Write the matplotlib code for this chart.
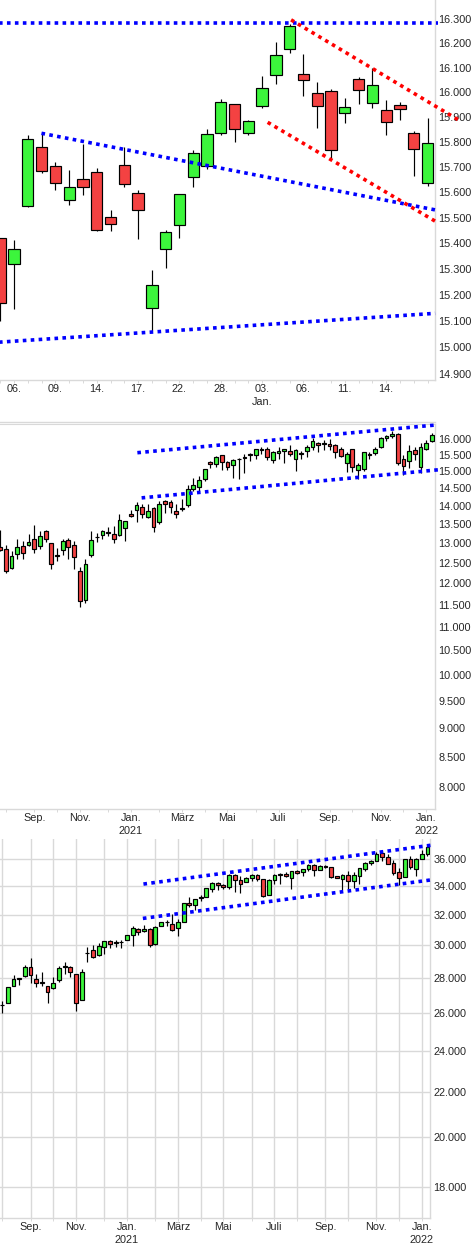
import matplotlib
matplotlib.use("Agg")
import matplotlib.pyplot as plt
from matplotlib.lines import Line2D
from matplotlib.ticker import FixedLocator, FixedFormatter, NullLocator

plt.rcParams['font.family'] = ['Liberation Sans', 'DejaVu Sans']

W, H = 475, 1250
GREEN, RED = '#3cf53c', '#f44242'
AXIS = '#d9d9d9'
TXT = '#262626'

# ---------- daily panel
d_open = [15.421,15.319,15.545,15.779,15.703,15.570,15.652,15.679,15.503,15.707,15.597,15.149,15.378,15.471,15.661,15.703,
          15.835,15.952,15.835,15.944,16.071,16.177,16.075,15.997,16.005,15.915,16.054,15.956,15.927,15.948,15.835,15.636]
d_close = [15.168,15.378,15.811,15.683,15.636,15.621,15.621,15.452,15.475,15.632,15.530,15.238,15.444,15.593,15.755,15.831,
           15.960,15.851,15.883,16.018,16.152,16.270,16.050,15.944,15.767,15.940,16.010,16.030,15.879,15.931,15.771,15.795]
d_high = [15.421,15.414,15.828,15.841,15.719,15.688,15.792,15.695,15.532,15.779,15.609,15.295,15.453,15.593,15.768,15.851,
          15.973,15.952,15.887,16.068,16.203,16.280,16.157,16.043,16.014,15.978,16.062,16.099,15.970,15.962,15.844,15.896]
d_low = [15.099,15.148,15.541,15.678,15.610,15.549,15.588,15.447,15.447,15.620,15.416,15.061,15.304,15.423,15.620,15.693,
         15.829,15.801,15.829,15.938,16.033,16.159,15.986,15.857,15.735,15.877,15.951,15.938,15.829,15.889,15.666,15.627]
d_ticks = [1, 4, 7, 10, 13, 16, 19, 22, 25, 28]
d_labels = ['06.', '09.', '14.', '17.', '22.', '28.', '03.\nJan.', '06.', '11.', '14.']
d_yticks = [16.3,16.2,16.1,16.0,15.9,15.8,15.7,15.6,15.5,15.4,15.3,15.2,15.1,15.0,14.9]
d_lines = [((-0.1, 31.76), (16.284, 16.284), 'blue'),
           ((2.99, 31.76), (15.835, 15.529), 'blue'),
           ((-0.1, 31.55), (15.02, 15.13), 'blue'),
           ((21.1, 33.2), (16.296, 15.89), 'red'),
           ((19.4, 31.55), (15.879, 15.487), 'red')]

# ---------- weekly panel (index)
w_open = [12.91,12.86,12.38,12.72,12.94,12.95,13.12,12.94,13.33,13.01,12.69,12.83,13.08,12.96,12.31,11.62,12.70,13.17,13.21,13.30,13.25,13.21,13.41,13.78,13.89,13.98,13.70,13.95,13.57,14.14,14.12,13.87,13.94,14.02,14.47,14.53,14.77,15.27,15.21,15.49,15.27,15.18,15.39,15.43,15.52,15.49,15.67,15.70,15.36,15.55,15.62,15.63,15.39,15.55,15.61,15.74,15.86,15.83,15.83,15.80,15.67,15.24,15.67,15.03,15.08,15.52,15.55,15.74,16.02,16.09,16.15,15.39,15.30,15.64,15.12,15.67,15.93]
w_close = [12.83,12.30,12.68,12.91,12.75,13.04,12.86,13.20,13.11,12.48,12.68,13.06,12.91,12.65,11.58,12.48,13.09,13.16,13.33,13.28,13.12,13.62,13.59,13.73,14.03,13.78,13.87,13.43,14.07,14.07,13.98,13.78,13.92,14.48,14.60,14.74,15.08,15.21,15.43,15.27,15.12,15.36,15.38,15.42,15.50,15.67,15.65,15.43,15.58,15.63,15.67,15.52,15.64,15.53,15.74,15.95,15.80,15.88,15.77,15.58,15.47,15.52,15.12,15.18,15.58,15.50,15.67,16.02,16.09,16.15,15.24,15.15,15.61,15.52,15.74,15.86,16.12]
w_high = [13.34,12.95,12.81,13.10,13.07,13.23,13.47,13.31,13.36,13.01,12.89,13.10,13.15,13.05,12.41,12.61,13.31,13.28,13.35,13.44,13.45,13.79,13.59,13.90,14.12,14.05,14.05,13.98,14.13,14.18,14.16,14.07,14.21,14.61,14.81,14.85,15.08,15.30,15.47,15.51,15.31,15.39,15.40,15.52,15.56,15.70,15.74,15.76,15.63,15.74,15.70,15.80,15.67,15.63,15.80,16.02,15.92,15.97,16.00,15.84,15.76,15.60,15.67,15.24,15.58,15.58,15.76,16.05,16.12,16.26,16.18,15.49,15.80,15.76,15.86,15.97,16.19]
w_low = [12.80,12.25,12.36,12.59,12.61,12.92,12.74,12.85,13.03,12.35,12.54,12.71,12.59,12.34,11.46,11.54,12.66,13.03,13.10,13.20,13.00,13.19,13.05,13.71,13.56,13.66,13.67,13.29,13.50,13.82,13.82,13.66,13.85,13.97,14.43,14.42,14.73,15.11,15.14,15.04,15.05,14.81,14.78,14.94,15.32,15.37,15.53,15.36,15.25,15.39,15.25,15.47,15.01,15.37,15.45,15.66,15.59,15.65,15.64,15.42,15.43,14.99,14.97,14.78,15.00,15.37,15.49,15.72,15.95,16.02,15.20,14.90,15.10,15.36,14.94,15.65,15.90]
w_major = [6, 14, 23, 32, 40, 49, 58, 67, 75]
w_minor = [1, 10, 19, 28, 36, 45, 53, 62, 71]
month_labels = ['Sep.', 'Nov.', 'Jan.\n2021', 'März', 'Mai', 'Juli', 'Sep.', 'Nov.', 'Jan.\n2022']
w_yticks = [16,15.5,15,14.5,14,13.5,13,12.5,12,11.5,11,10.5,10,9.5,9,8.5,8]
w_lines = [((24.15, 76.47), (15.57, 16.45), 'blue'),
           ((24.9, 77.2), (14.23, 15.05), 'blue')]

# ---------- weekly panel (second index)
s_open = [26.46,26.55,27.51,27.94,28.10,28.66,27.94,27.74,27.53,27.41,27.88,28.66,28.66,28.24,26.72,29.49,29.70,29.39,29.89,30.27,30.15,30.19,30.34,30.66,31.05,30.91,31.05,30.08,31.24,31.49,31.38,31.11,31.51,32.80,32.66,33.18,33.21,33.78,34.21,34.06,33.92,34.78,34.42,34.28,34.57,34.78,34.49,33.35,34.42,34.81,34.86,34.57,35.08,35.01,35.23,35.53,35.16,35.40,35.38,34.69,34.49,34.78,34.35,34.71,35.23,35.67,35.82,36.43,36.13,35.67,35.01,34.64,35.97,35.23,35.97,36.36]
s_close = [26.44,27.47,27.94,27.98,28.66,28.16,27.71,27.71,27.18,27.71,28.60,28.72,28.36,26.55,28.36,29.53,29.26,29.96,30.27,30.08,30.21,30.21,30.66,31.11,30.85,31.05,30.02,31.18,31.51,31.51,30.98,31.51,32.80,32.66,33.07,33.21,33.85,34.21,34.06,33.92,34.78,34.42,34.18,34.57,34.78,34.49,33.28,34.42,34.78,34.86,34.71,35.08,34.93,35.23,35.53,35.16,35.45,35.45,34.64,34.57,34.78,34.35,34.78,35.30,35.67,35.82,36.36,36.13,35.60,34.93,34.57,35.97,35.38,35.97,36.36,36.90]
s_high = [26.67,27.47,28.18,27.98,28.78,29.22,28.24,28.38,27.53,28.08,28.72,28.98,28.74,28.24,28.54,29.91,30.02,30.15,30.27,30.34,30.34,30.34,30.66,31.24,31.11,31.33,31.11,31.22,31.51,31.66,32.05,31.71,32.80,33.23,33.07,33.35,33.85,34.28,34.28,34.14,34.86,34.86,34.69,34.64,34.86,34.86,34.49,34.49,34.86,34.93,35.01,35.08,35.16,35.23,35.60,35.60,35.53,35.55,35.38,34.69,34.86,35.08,35.01,35.30,35.75,35.90,36.51,36.66,36.36,35.90,35.30,35.97,36.20,36.05,36.66,37.05]
s_low = [26.00,26.55,27.51,27.57,28.04,27.69,27.45,27.51,26.53,27.35,27.76,28.22,28.04,26.13,26.72,28.94,29.22,29.33,29.47,29.81,29.87,29.81,30.34,29.93,30.64,30.85,29.87,30.02,31.24,31.26,30.93,30.57,31.51,32.50,32.32,32.96,33.21,33.56,33.68,33.75,33.75,33.54,33.47,34.26,34.33,34.33,33.23,33.35,34.18,34.18,34.64,33.78,34.86,34.69,35.08,34.69,35.16,35.30,34.59,34.57,33.70,33.78,33.83,34.11,35.08,35.52,35.82,35.87,35.60,34.78,34.04,34.64,35.23,34.69,35.97,36.26]
s_major = [5, 13, 22, 31, 39, 48, 57, 66, 74]
s_minor = [0, 9, 18, 27, 35, 44, 52, 61, 70]
s_yticks = [36, 34, 32, 30, 28, 26, 24, 22, 20, 18]
s_lines = [((24.9, 75.8), (34.14, 37.07), 'blue'),
           ((24.8, 75.8), (31.75, 34.45), 'blue')]

fig = plt.figure(figsize=(W / 100, H / 100), dpi=100, facecolor='white')


def panel(left, top, right, bottom, xlim, ylim):
    ax = fig.add_axes([left / W, 1 - bottom / H, (right - left) / W, (bottom - top) / H])
    ax.set_yscale('log')
    ax.set_xlim(*xlim)
    ax.set_ylim(*ylim)
    for s in ('left', 'top'):
        ax.spines[s].set_visible(False)
    for s in ('right', 'bottom'):
        ax.spines[s].set_color(AXIS)
        ax.spines[s].set_linewidth(1.0)
    return ax


def candles(ax, o, c, h, l, width):
    xs = range(len(o))
    ax.vlines(xs, l, h, color='black', lw=0.85, zorder=3)
    for x, a, b in zip(xs, o, c):
        ax.bar(x, abs(b - a), bottom=min(a, b), width=width,
               facecolor=GREEN if b >= a else RED, edgecolor='black', linewidth=0.85, zorder=4)


def trends(ax, specs):
    for xs, ys, col in specs:
        ax.plot(xs, ys, color=col, lw=2.6, linestyle=(0, (1, 1.2)), dash_capstyle='butt',
                clip_on=False, zorder=6)


def axes_text(ax, yticks, major, minor, labels, ypad, xpad):
    ax.yaxis.tick_right()
    ax.yaxis.set_major_locator(FixedLocator(yticks))
    ax.yaxis.set_major_formatter(FixedFormatter([f'{v:.3f}' for v in yticks]))
    ax.yaxis.set_minor_locator(NullLocator())
    ax.tick_params(axis='y', which='both', length=0, pad=ypad, labelsize=7.8, labelcolor=TXT)
    ax.xaxis.set_major_locator(FixedLocator(major))
    ax.xaxis.set_major_formatter(FixedFormatter(labels))
    ax.xaxis.set_minor_locator(FixedLocator(minor))
    ax.tick_params(axis='x', which='both', length=1.8, width=0.7, color=AXIS, pad=xpad,
                   labelsize=7.8, labelcolor=TXT)
    for t in ax.get_xticklabels():
        t.set_linespacing(1.35)


# panel 1
ax1 = panel(0, 0, 434.7, 380, (-0.02, 31.52), (14.877, 16.378))
candles(ax1, d_open, d_close, d_high, d_low, 0.82)
trends(ax1, d_lines)
axes_text(ax1, d_yticks, d_ticks, list(range(len(d_open))), d_labels, 2.4, 1.2)

# panel 2
ax2 = panel(0, 424, 434.7, 809, (-0.035, 76.5), (7.657, 16.486))
ax2.spines['top'].set_visible(True)
ax2.spines['top'].set_color(AXIS)
candles(ax2, w_open, w_close, w_high, w_low, 0.66)
trends(ax2, w_lines)
axes_text(ax2, w_yticks, w_major, w_minor, month_labels, 2.4, 1.2)
fig.add_artist(Line2D([0, 434.7 / W], [1 - 422 / H, 1 - 422 / H], color=AXIS, lw=1.0))

# panel 3
ax3 = panel(0, 839, 430.3, 1218, (-0.4, 75.5), (16.86, 37.55))
ax3.set_axisbelow(True)
candles(ax3, s_open, s_close, s_high, s_low, 0.66)
trends(ax3, s_lines)
axes_text(ax3, s_yticks, s_major, s_minor, month_labels, 2.4, 1.2)
ax3.yaxis.grid(True, which='major', color=AXIS, lw=1.0)
ax3.xaxis.grid(True, which='both', color=AXIS, lw=1.0)

fig.savefig('out.png', dpi=100, facecolor='white')
